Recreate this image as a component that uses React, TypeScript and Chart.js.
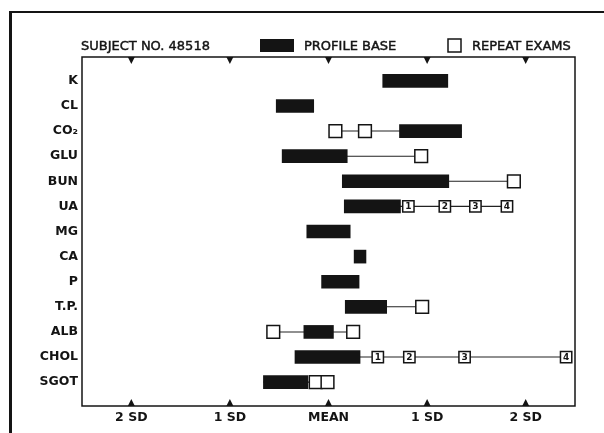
import React, { useEffect, useRef } from "react";
import { Chart, registerables } from "chart.js";

Chart.register(...registerables);

// ---- data (SD units relative to the mean) ----
const rowLabels = ["K", "CL", "CO₂", "GLU", "BUN", "UA", "MG", "CA", "P", "T.P.", "ALB", "CHOL", "SGOT"];
const baseStart = [0.55, -0.53, 0.72, -0.47, 0.14, 0.16, -0.22, 0.26, -0.07, 0.17, -0.25, -0.34, -0.66];
const baseEnd = [1.21, -0.15, 1.35, 0.19, 1.22, 0.73, 0.22, 0.38, 0.31, 0.59, 0.05, 0.32, -0.21];
const repeatExams: number[][] = [
  [],
  [],
  [0.07, 0.37],
  [0.94],
  [1.88],
  [0.81, 1.18, 1.49, 1.81],
  [],
  [],
  [],
  [0.95],
  [-0.56, 0.25],
  [0.5, 0.82, 1.38, 2.41],
  [-0.13, -0.01],
];
const numberedRows = [false, false, false, false, false, true, false, false, false, false, false, true, false];
const sdTicks = [-2, -1, 0, 1, 2];
const sdTickLabels = ["2 SD", "1 SD", "MEAN", "1 SD", "2 SD"];
const subjectLabel = "SUBJECT NO. 48518";
const baseLegendLabel = "PROFILE BASE";
const repeatLegendLabel = "REPEAT EXAMS";

const FONT = "'DejaVu Sans', Verdana, sans-serif";
const INK = "#141414";

const decorPlugin = {
  id: "decor",
  afterDatasetsDraw(chart: any) {
    const ctx = chart.ctx;
    chart.data.datasets.forEach((ds: any, di: number) => {
      if (ds.label !== "numbered") return;
      const meta = chart.getDatasetMeta(di);
      ctx.save();
      ctx.fillStyle = INK;
      ctx.font = `bold 9px ${FONT}`;
      ctx.textAlign = "center";
      ctx.textBaseline = "middle";
      meta.data.forEach((pt: any, j: number) => {
        ctx.fillText(String(ds.data[j].n), pt.x, pt.y + 0.5);
      });
      ctx.restore();
    });
  },
  afterDraw(chart: any) {
    const ctx = chart.ctx;
    const a = chart.chartArea;
    const xs = chart.scales.x;
    ctx.save();
    ctx.fillStyle = INK;
    ctx.fillRect(9, 11, chart.width - 9, 2);
    ctx.fillRect(9, 11, 3, chart.height - 11);
    ctx.strokeStyle = INK;
    ctx.lineWidth = 1.5;
    ctx.strokeRect(a.left, a.top, a.right - a.left, a.bottom - a.top);
    sdTicks.forEach((v) => {
      const px = xs.getPixelForValue(v);
      ctx.beginPath();
      ctx.moveTo(px - 3.5, a.top);
      ctx.lineTo(px + 3.5, a.top);
      ctx.lineTo(px, a.top + 7);
      ctx.closePath();
      ctx.fill();
      ctx.beginPath();
      ctx.moveTo(px - 3.5, a.bottom);
      ctx.lineTo(px + 3.5, a.bottom);
      ctx.lineTo(px, a.bottom - 7);
      ctx.closePath();
      ctx.fill();
    });
    const ty = 47;
    ctx.font = `13px ${FONT}`;
    ctx.textBaseline = "middle";
    ctx.textAlign = "left";
    ctx.lineWidth = 0.45;
    const txt = (s: string, x: number) => {
      ctx.fillText(s, x, ty);
      ctx.strokeText(s, x, ty);
    };
    txt(subjectLabel, 81);
    ctx.fillRect(260, 39, 34, 13);
    txt(baseLegendLabel, 304);
    ctx.fillStyle = "#fff";
    ctx.fillRect(448, 39, 13, 13);
    ctx.lineWidth = 1.5;
    ctx.strokeRect(448, 39, 13, 13);
    ctx.fillStyle = INK;
    ctx.lineWidth = 0.45;
    txt(repeatLegendLabel, 472);
    ctx.restore();
  },
};

export default function App() {
  const ref = useRef<HTMLCanvasElement | null>(null);

  useEffect(() => {
    if (!ref.current) return;

    const lineSets = rowLabels
      .map((_, i) => {
        if (!repeatExams[i].length) return null;
        const all = [baseStart[i], baseEnd[i], ...repeatExams[i]];
        return {
          type: "scatter",
          label: "link",
          data: [
            { x: Math.min(...all), y: i },
            { x: Math.max(...all), y: i },
          ],
          showLine: true,
          borderColor: "#222222",
          borderWidth: 1.1,
          pointRadius: 0,
          order: 3,
        };
      })
      .filter(Boolean);

    const plainBoxes: any[] = [];
    const numberedBoxes: any[] = [];
    repeatExams.forEach((vals, i) => {
      vals.forEach((v, j) => {
        if (numberedRows[i]) numberedBoxes.push({ x: v, y: i, n: j + 1 });
        else plainBoxes.push({ x: v, y: i });
      });
    });

    const chart = new Chart(ref.current, {
      type: "bar",
      data: {
        datasets: [
          ...(lineSets as any[]),
          {
            type: "bar",
            label: "base",
            indexAxis: "y",
            data: rowLabels.map((_, i) => ({ x: [baseStart[i], baseEnd[i]], y: i })),
            backgroundColor: INK,
            borderWidth: 0,
            barThickness: 13,
            order: 2,
          },
          {
            type: "scatter",
            label: "plain",
            data: plainBoxes,
            pointStyle: "rect",
            pointRadius: 9,
            backgroundColor: "#ffffff",
            borderColor: INK,
            borderWidth: 1.5,
            order: 1,
          },
          {
            type: "scatter",
            label: "numbered",
            data: numberedBoxes,
            pointStyle: "rect",
            pointRadius: 8,
            backgroundColor: "#ffffff",
            borderColor: INK,
            borderWidth: 1.5,
            order: 0,
          },
        ] as any,
      },
      options: {
        responsive: false,
        animation: false,
        devicePixelRatio: 1,
        events: [],
        layout: { padding: { left: 0, right: 29, top: 57, bottom: 0 } },
        plugins: { legend: { display: false }, tooltip: { enabled: false }, title: { display: false } },
        scales: {
          x: {
            type: "linear",
            position: "bottom",
            min: -2.5,
            max: 2.5,
            offset: false,
            grid: { display: false, drawTicks: false, offset: false },
            border: { display: false },
            afterBuildTicks: (s: any) => {
              s.ticks = sdTicks.map((v) => ({ value: v }));
            },
            afterFit: (s: any) => {
              s.height = 27;
            },
            ticks: {
              autoSkip: false,
              maxRotation: 0,
              padding: 4,
              color: INK,
              font: { family: FONT, size: 12.5, weight: "bold" },
              callback: (_v: any, i: number) => sdTickLabels[i],
            },
          },
          y: {
            type: "linear",
            min: -0.95,
            max: 12.95,
            reverse: true,
            offset: false,
            beginAtZero: false,
            grid: { display: false, drawTicks: false, offset: false },
            border: { display: false },
            afterBuildTicks: (s: any) => {
              s.ticks = rowLabels.map((_, i) => ({ value: i }));
            },
            afterFit: (s: any) => {
              s.width = 82;
            },
            ticks: {
              autoSkip: false,
              padding: 4,
              color: INK,
              font: { family: FONT, size: 12.5, weight: "bold" },
              callback: (v: any) => rowLabels[v as number],
            },
          },
        },
      } as any,
      plugins: [decorPlugin],
    });

    return () => chart.destroy();
  }, []);

  return (
    <div style={{ position: "fixed", left: 0, top: 0, width: 604, height: 433, background: "#fff" }}>
      <canvas ref={ref} width={604} height={433} style={{ display: "block", width: 604, height: 433 }} />
    </div>
  );
}
